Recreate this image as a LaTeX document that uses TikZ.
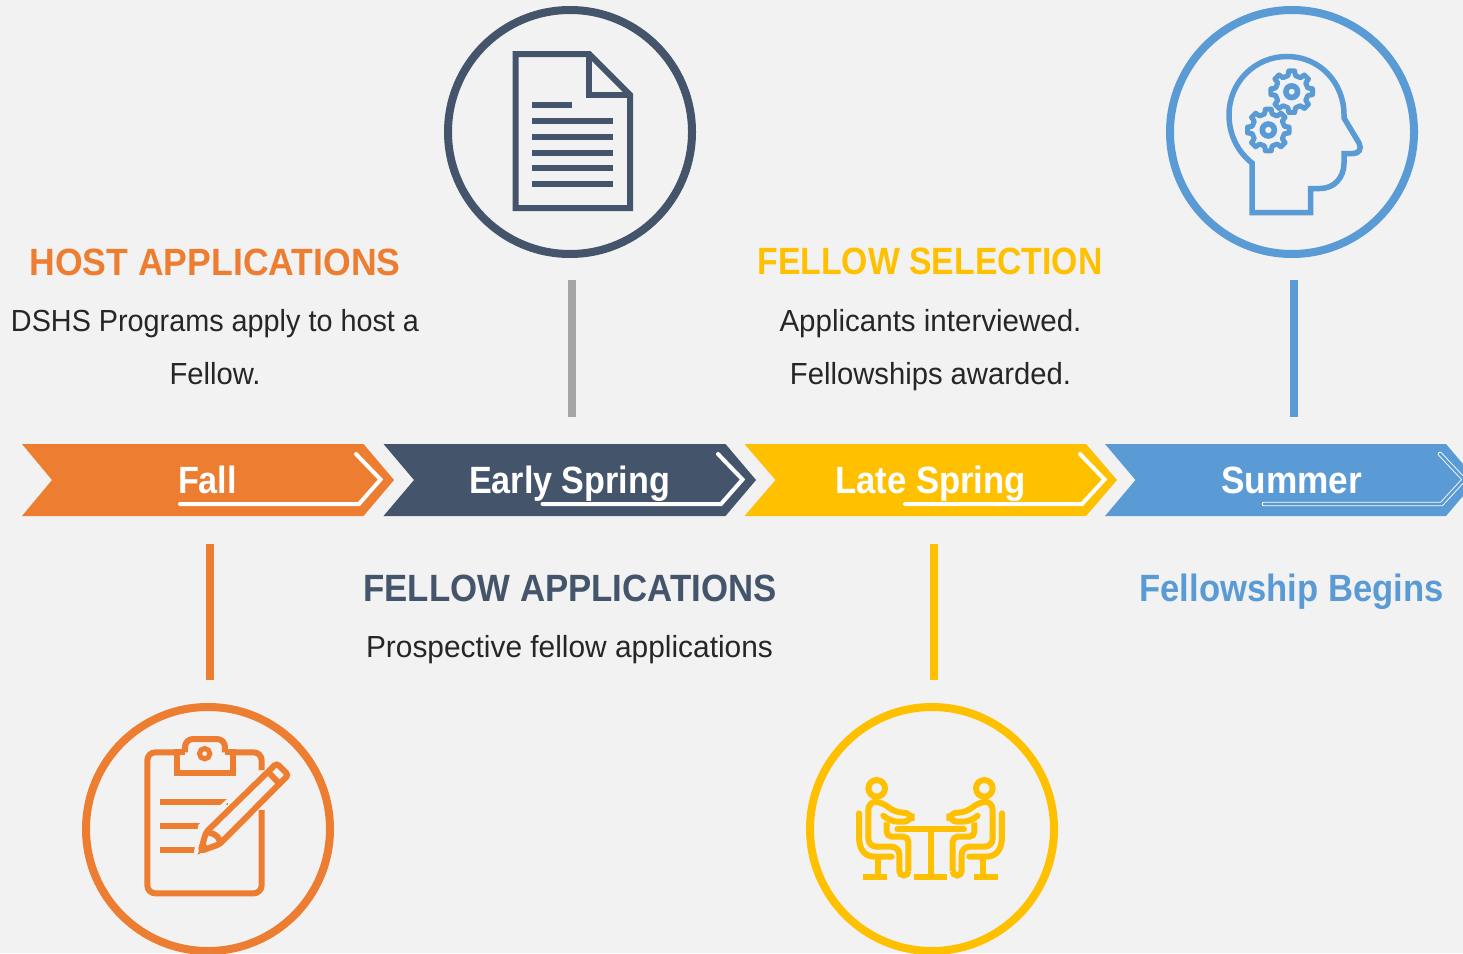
\documentclass[tikz,border=0pt]{standalone}
\usepackage{fontspec}
\setmainfont{Liberation Sans}
\definecolor{bg}{HTML}{F2F2F2}
\definecolor{cor}{HTML}{ED7D31}
\definecolor{cdk}{HTML}{44546A}
\definecolor{cye}{HTML}{FFC000}
\definecolor{cbl}{HTML}{5B9BD5}
\definecolor{cgr}{HTML}{A5A5A5}
\definecolor{ctx}{HTML}{262626}
\newcommand\fitw[2]{\resizebox{#1pt}{\height}{#2}}
\newcommand\personshape{%
  \draw[iconline] (110,70) circle[radius=8.3pt];
  \draw[iconline,line cap=round] (57,145) -- (57,215) .. controls (57,255) and (75,275) .. (105,275) -- (155,275);
  \draw[iconline] (113,280) -- (113,335);
  \draw[iconline] (70,335) -- (141,335);
  \draw[iconline,rounded corners=8pt,line cap=round] (130,152) -- (150,170) -- (215,170) -- (215,143) -- (165,143) -- (125,110) -- (85,110) -- (85,245) -- (178,245) -- (178,318);
  \draw[iconline,rounded corners=5pt] (140,172) -- (140,215) -- (205,215) -- (205,318);
  \draw[iconline] (205,318) arc[start angle=0,end angle=180,radius=13.5];
}
\tikzset{
  bandmark/.style={draw=white,line width=4pt,line cap=round,line join=miter},
  bar/.style={line width=8pt},
  ring/.style={circle,draw=#1,line width=8pt,minimum size=244pt,inner sep=0pt},
  headtxt/.style={font=\bfseries\fontsize{38}{38}\selectfont,anchor=base,inner sep=0pt},
  bodytxt/.style={font=\fontsize{30.5}{30.5}\selectfont,text=ctx,anchor=base,inner sep=0pt},
  bandtxt/.style={font=\bfseries\fontsize{38}{38}\selectfont,text=white,anchor=base,inner sep=0pt},
  iconline/.style={line width=6pt,line join=miter},
}
\newcommand\gearshape[3]{% x, y, ring radius
  \begin{scope}[shift={(#1,#2)}]
    \draw[draw=cbl,line width=5pt,line join=round] (-13:16.5)
      \foreach \a in {0,45,...,315}{ -- (\a-13:16.5) -- (\a-8:21) -- (\a+8:21) -- (\a+13:16.5) } -- cycle;
    \draw[cbl,line width=5.6pt] (0,0) circle[radius=#3pt];
  \end{scope}
}
\begin{document}
\begin{tikzpicture}[x=1pt,y=-1pt]
\useasboundingbox (0,0) rectangle (1463,953);
\fill[bg] (0,0) rectangle (1463,953);

% bands
\fill[cor] (22,444) -- (363.5,444) -- (394,480) -- (363.5,516) -- (22,516) -- (52,480) -- cycle;
\fill[cdk] (383.5,444) -- (725.5,444) -- (756,480) -- (725.5,516) -- (383.5,516) -- (414,480) -- cycle;
\fill[cye] (744.5,444) -- (1086,444) -- (1117,480) -- (1086,516) -- (744.5,516) -- (775.5,480) -- cycle;
\fill[cbl] (1105,444) -- (1446,444) -- (1463,464) -- (1463,496) -- (1446,516) -- (1105,516) -- (1135.5,480) -- cycle;

\coordinate (m1a) at (180,504); \coordinate (m1b) at (359,504); \coordinate (m1c) at (380.5,479.5); \coordinate (m1d) at (356,454);
\coordinate (m2a) at (542.5,504); \coordinate (m2b) at (721,504); \coordinate (m2c) at (742.5,479.5); \coordinate (m2d) at (718,454);
\coordinate (m3a) at (905,504); \coordinate (m3b) at (1082,504); \coordinate (m3c) at (1104.5,479.5); \coordinate (m3d) at (1080,454);
\coordinate (m4a) at (1264,504); \coordinate (m4b) at (1441.5,504); \coordinate (m4c) at (1464,479.5); \coordinate (m4d) at (1440,454);
\draw[bandmark] (m1a) -- (m1b) -- (m1c) -- (m1d);
\draw[bandmark] (m2a) -- (m2b) -- (m2c) -- (m2d);
\draw[bandmark] (m3a) -- (m3b) -- (m3c) -- (m3d);
\begin{scope}
  \clip (1100,440) rectangle (1463,520);
  \draw[bandmark,line width=4.4pt] (m4a) -- (m4b) -- (m4c) -- (m4d);
  \draw[bandmark,draw=cbl,line width=2.6pt] (m4a) -- (m4b) -- (m4c) -- (m4d);
\end{scope}

\node[bandtxt] (fall) at (207.5,493) {\fitw{59}{Fall}};
\node[bandtxt] (early) at (569.5,493) {\fitw{201}{Early Spring}};
\node[bandtxt] (late) at (930.5,493) {\fitw{191}{Late Spring}};
\node[bandtxt] (summer) at (1291.5,493) {\fitw{141}{Summer}};

% stems
\coordinate (s1a) at (210,544); \coordinate (s1b) at (210,680);
\coordinate (s2a) at (572,280); \coordinate (s2b) at (572,417);
\coordinate (s3a) at (934,544); \coordinate (s3b) at (934,680);
\coordinate (s4a) at (1294,280); \coordinate (s4b) at (1294,417);
\draw[bar,cor] (s1a) -- (s1b);
\draw[bar,cgr] (s2a) -- (s2b);
\draw[bar,cye] (s3a) -- (s3b);
\draw[bar,cbl] (s4a) -- (s4b);

% rings
\node[ring=cor] (r1) at (208,829) {};
\node[ring=cdk] (r2) at (570,132) {};
\node[ring=cye] (r3) at (932,829) {};
\node[ring=cbl] (r4) at (1292,132) {};

% texts
\node[headtxt,text=cor] (t1) at (215,275) {\fitw{371}{HOST APPLICATIONS}};
\node[bodytxt] (t1a) at (215,331) {\fitw{408}{DSHS Programs apply to host a}};
\node[bodytxt] (t1b) at (215,384) {\fitw{91}{Fellow.}};
\node[headtxt,text=cye] (t3) at (930,274) {\fitw{345}{FELLOW SELECTION}};
\node[bodytxt] (t3a) at (930.5,331) {\fitw{302}{Applicants interviewed.}};
\node[bodytxt] (t3b) at (930.5,384) {\fitw{281}{Fellowships awarded.}};
\node[headtxt,text=cdk] (t2) at (570,601) {\fitw{413}{FELLOW APPLICATIONS}};
\node[bodytxt] (t2a) at (569.5,657) {\fitw{407}{Prospective fellow applications}};
\node[headtxt,text=cbl] (t4) at (1291.5,601) {\fitw{304}{Fellowship Begins}};

% document icon
\draw[cdk,line width=6pt,line join=miter] (589,54) -- (515.5,54) -- (515.5,208) -- (630,208) -- (630,95) -- cycle;
\draw[cdk,line width=6pt,line join=miter] (589,54) -- (589,95) -- (630,95);
\draw[cdk,line width=6pt] (532,105) -- (572,105);
\foreach \yy in {121,136.7,152.7,168.3,184.3} \draw[cdk,line width=6pt] (532,\yy) -- (613,\yy);

% head icon
\draw[cbl,line width=5.5pt,line join=miter] (1252,212.5) -- (1252,163) .. controls (1238,152) and (1229,135) .. (1229,115)
  .. controls (1229,82) and (1255,56.5) .. (1287,56.5) .. controls (1319,56.5) and (1344,82) .. (1344,115)
  -- (1344,118) -- (1359,143) .. controls (1362,149) and (1359,153.5) .. (1353,153.5) -- (1344,153.5) -- (1344,163)
  .. controls (1344,178) and (1334,188.5) .. (1320,188.5) -- (1310.5,188.5) -- (1310.5,212.5) -- cycle;
\gearshape{1291.7}{91.7}{5.8}
\gearshape{1268.3}{130}{6}

% meeting icon
\begin{scope}[shift={(840,765)},x=.3333pt,y=-.3333pt,draw=cye,cye]
  \personshape
  \begin{scope}[shift={(543,0)},xscale=-1]
    \personshape
  \end{scope}
  \draw[iconline,line cap=round] (172,193) -- (372,193);
  \draw[iconline] (272,193) -- (272,335);
  \draw[iconline] (222,335) -- (322,335);
\end{scope}

% clipboard icon
\begin{scope}[shift={(130,725)},x=.3333pt,y=-.3333pt,draw=cor,cor]
  \draw[iconline,rounded corners=8pt] (142,82) -- (52,82) -- (52,505) -- (395,505) -- (395,255);
  \draw[iconline,rounded corners=8pt] (308,82) -- (395,82) -- (395,135);
  \draw[iconline] (142,73) -- (142,143) -- (308,143) -- (308,73);
  \draw[iconline,rounded corners=8pt] (165,82) -- (165,42) -- (285,42) -- (285,82);
  \draw[iconline] (142,82) -- (165,82);
  \draw[iconline] (285,82) -- (308,82);
  \draw[cor,line width=5pt] (224,86) circle[radius=5.2pt];
  \draw[cor,line width=6pt] (90,232) -- (295,232);
  \draw[cor,line width=6pt] (90,303) -- (222,303);
  \draw[cor,line width=6pt] (90,374) -- (195,374);
  \fill[bg] (303,222) -- (240,290) -- (205,395) -- (190,395) -- (205,300) -- (310,205) -- cycle;
  \draw[iconline,rounded corners=3pt] (212,378) -- (228,322) -- (440,115) -- (475,150) -- (268,358) -- cycle;
  \draw[iconline] (412,138) -- (450,178);
  \draw[iconline] (232,322) .. controls (260,325) and (275,345) .. (268,358);
  \fill[cor] (203,390) -- (218,345) -- (236,368) -- cycle;
\end{scope}
\end{tikzpicture}
\end{document}
